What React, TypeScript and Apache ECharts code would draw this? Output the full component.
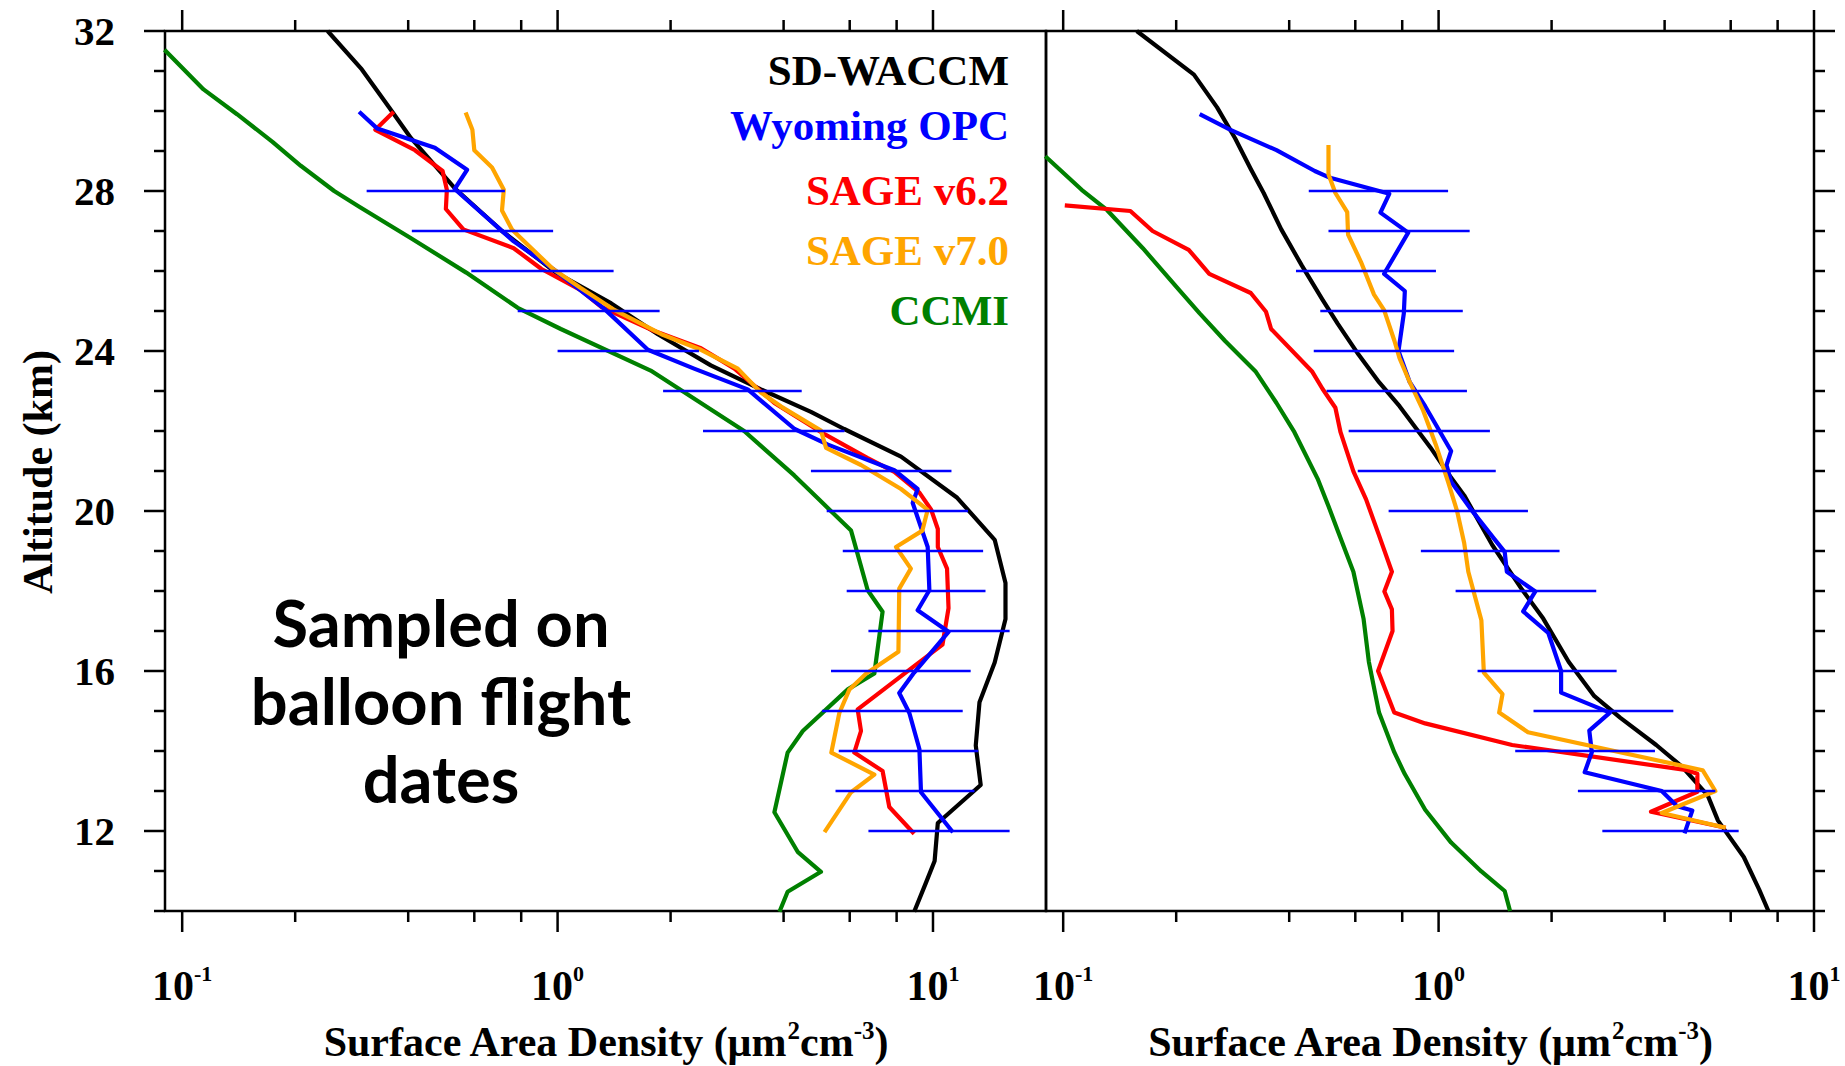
import React, { useEffect, useRef } from 'react';
import * as echarts from 'echarts';

const SERIF = '"Liberation Serif", "Times New Roman", Times, serif';

// ---- axes ----
const leftXRange = [0.09, 20];
const rightXRange = [0.09, 10];
const altRange = [10, 32];
const xMajorTicks = [0.1, 1, 10];
const xMinorTicks = [0.2, 0.4, 0.6, 0.8, 2, 4, 6, 8];
const yMajorTicks = [12, 16, 20, 24, 28, 32];
const yMinorTicks = [10, 11, 13, 14, 15, 17, 18, 19, 21, 22, 23, 25, 26, 27, 29, 30, 31];

// ---- legend / text ----
const legendLabels = ['SD-WACCM', 'Wyoming OPC', 'SAGE v6.2', 'SAGE v7.0', 'CCMI'];
const legendColors = ['#000000', '#0000ff', '#ff0000', '#ffa500', '#008000'];
const xTitle = 'Surface Area Density (\u03bcm{s|2}cm{s|-3})';
const yTitle = 'Altitude (km)';
const note = 'Sampled on\nballoon flight\ndates';

// ---- left panel: [surface area density, altitude km] ----
const waccmLeft = [[0.244,32.0],[0.301,31.04],[0.356,30.09],[0.407,29.32],[0.532,28.07],[0.711,27.0],[0.99,25.96],[1.39,25.19],[1.85,24.42],[2.56,23.64],[3.48,23.04],[4.73,22.48],[5.80,22.05],[8.22,21.36],[11.6,20.33],[14.6,19.28],[15.6,18.2],[15.6,17.3],[14.6,16.21],[13.3,15.22],[13.0,14.14],[13.4,13.15],[10.3,12.2],[10.1,11.25],[9.58,10.71],[8.91,9.98]];
const ccmiLeft = [[0.0897,31.53],[0.114,30.54],[0.140,29.92],[0.174,29.23],[0.207,28.63],[0.254,28.0],[0.297,27.6],[0.407,26.82],[0.571,25.96],[0.783,25.08],[1.02,24.55],[1.77,23.51],[3.14,22.0],[4.27,20.89],[4.98,20.28],[6.05,19.51],[6.70,18.02],[7.34,17.48],[6.98,15.94],[5.93,15.54],[4.50,14.5],[4.10,13.96],[3.78,12.47],[4.36,11.48],[5.03,10.98],[4.10,10.48],[3.90,9.98]];
const opcLeft = [[0.296,29.98],[0.331,29.56],[0.471,29.08],[0.574,28.53],[0.532,28.05],[0.764,26.74],[0.973,26.05],[1.33,25.06],[1.74,24.03],[2.31,23.56],[3.21,23.04],[4.28,22.05],[5.25,21.66],[7.89,21.02],[9.10,20.55],[8.83,20.2],[9.68,19.1],[9.78,18.02],[9.10,17.52],[11.0,16.98],[8.91,15.96],[8.13,15.45],[8.65,14.95],[9.20,14.05],[9.29,12.97],[11.3,11.97]];
const sage62Left = [[0.366,29.98],[0.327,29.53],[0.417,29.02],[0.494,28.5],[0.507,28.03],[0.504,27.55],[0.561,27.04],[0.764,26.57],[0.906,26.05],[1.15,25.53],[1.31,25.1],[1.81,24.5],[2.41,24.07],[2.96,23.56],[3.78,22.7],[5.14,21.92],[6.70,21.32],[7.89,20.98],[9.20,20.46],[9.89,20.03],[10.3,19.55],[10.3,19.1],[10.9,18.56],[11.0,17.57],[10.6,16.66],[8.91,16.12],[6.30,15.04],[6.43,14.5],[6.17,13.96],[7.34,13.5],[7.65,12.6],[8.91,11.93]];
const sage70Left = [[0.569,29.96],[0.593,29.53],[0.600,29.02],[0.669,28.59],[0.719,28.03],[0.711,27.51],[0.756,27.04],[0.842,26.61],[0.973,26.05],[1.15,25.58],[1.42,25.02],[1.89,24.42],[2.41,24.03],[3.02,23.56],[3.48,22.96],[3.94,22.61],[5.03,22.01],[5.19,21.58],[6.43,21.15],[8.22,20.55],[9.68,20.03],[9.37,19.51],[7.97,19.1],[8.73,18.56],[8.13,18.06],[8.09,16.48],[6.64,15.94],[5.99,15.54],[5.63,14.95],[5.36,13.96],[6.98,13.41],[6.05,12.97],[5.14,11.97]];
// [low, high, altitude]
const opcErrLeft = [[0.310,0.724,28],[0.409,0.973,27],[0.589,1.41,26],[0.783,1.87,25],[1.00,2.38,24],[1.91,4.47,23],[2.44,5.81,22],[4.73,11.2,21],[5.21,12.4,20],[5.75,13.6,19],[5.89,13.8,18],[6.73,16.0,17],[5.35,12.6,16],[5.06,12.0,15],[5.61,13.2,14],[5.50,12.9,13],[6.73,16.0,12]];

// ---- right panel ----
const waccmRight = [[0.157,32.0],[0.223,30.91],[0.257,30.09],[0.287,29.32],[0.316,28.55],[0.342,27.95],[0.381,27.04],[0.432,26.14],[0.491,25.28],[0.539,24.68],[0.612,23.91],[0.694,23.22],[0.787,22.62],[0.951,21.59],[1.06,20.94],[1.17,20.39],[1.39,19.15],[1.67,18.03],[1.90,17.31],[2.22,16.23],[2.60,15.37],[3.05,14.83],[3.80,14.15],[4.45,13.61],[5.21,12.89],[5.55,12.26],[6.50,11.35],[7.14,10.54],[7.56,10.0]];
const ccmiRight = [[0.0896,28.87],[0.112,28.03],[0.131,27.52],[0.163,26.57],[0.203,25.54],[0.231,24.94],[0.270,24.25],[0.326,23.48],[0.370,22.70],[0.413,21.97],[0.476,20.81],[0.51,20.1],[0.540,19.48],[0.593,18.48],[0.631,17.31],[0.652,16.23],[0.694,14.96],[0.762,13.97],[0.812,13.43],[0.921,12.53],[1.08,11.71],[1.30,10.99],[1.50,10.5],[1.55,10.0]];
const sage62Right = [[0.101,27.64],[0.151,27.5],[0.173,27.0],[0.216,26.53],[0.245,25.93],[0.316,25.45],[0.347,24.98],[0.358,24.55],[0.461,23.48],[0.491,23.05],[0.531,22.58],[0.548,21.97],[0.593,20.99],[0.641,20.29],[0.694,19.39],[0.751,18.48],[0.717,17.99],[0.751,17.54],[0.754,17.0],[0.690,16.0],[0.762,14.96],[0.921,14.69],[1.57,14.15],[4.59,13.52],[4.89,13.43],[4.89,12.98],[3.68,12.48],[5.82,12.08]];
const sage70Right = [[0.509,29.15],[0.509,28.42],[0.531,27.95],[0.571,27.47],[0.574,26.91],[0.621,26.23],[0.673,25.41],[0.716,25.02],[0.763,24.25],[0.787,23.82],[0.838,23.22],[0.908,22.53],[0.982,21.67],[1.06,20.73],[1.12,20.0],[1.17,19.2],[1.20,18.48],[1.30,17.27],[1.32,15.96],[1.48,15.42],[1.45,14.96],[1.73,14.47],[5.05,13.52],[5.46,13.0],[3.93,12.45],[5.82,12.08]];
const opcRight = [[0.231,29.92],[0.279,29.53],[0.370,29.02],[0.468,28.5],[0.514,28.33],[0.739,27.93],[0.700,27.46],[0.830,26.96],[0.716,25.93],[0.813,25.5],[0.808,24.94],[0.782,24.0],[0.838,23.22],[0.921,22.62],[1.08,21.5],[1.05,21.15],[1.08,20.73],[1.22,20.04],[1.41,19.29],[1.50,18.98],[1.52,18.48],[1.81,17.99],[1.68,17.49],[1.96,16.95],[2.12,16.0],[2.12,15.46],[2.86,14.96],[2.52,14.51],[2.56,13.97],[2.45,13.47],[3.93,13.0],[4.32,12.62],[4.74,12.51],[4.52,11.94]];
const opcErrRight = [[0.451,1.06,28],[0.509,1.21,27],[0.417,0.984,26],[0.484,1.16,25],[0.465,1.10,24],[0.503,1.19,23],[0.576,1.37,22],[0.609,1.42,21],[0.736,1.73,20],[0.897,2.10,19],[1.11,2.63,18],[1.27,2.98,16],[1.79,4.22,15],[1.60,3.77,14],[2.35,5.46,13],[2.73,6.30,12]];

const LINE_W = 4.2;
const FRAME_W = 2.5;

function lineSeries(data: number[][], color: string, g: number) {
  return {
    type: 'line', data, xAxisIndex: g, yAxisIndex: g,
    symbol: 'none', showSymbol: false, silent: true, clip: true,
    lineStyle: { color, width: LINE_W, join: 'round' }, itemStyle: { color },
  };
}

function errSeries(data: number[][], g: number) {
  return {
    type: 'custom', xAxisIndex: g, yAxisIndex: g, silent: true, clip: false, z: 5,
    data, encode: { x: [0, 1], y: 2 },
    renderItem: (params: any, api: any) => {
      const a = api.coord([api.value(0), api.value(2)]);
      const b = api.coord([api.value(1), api.value(2)]);
      return { type: 'line', shape: { x1: a[0], y1: a[1], x2: b[0], y2: b[1] }, style: { stroke: '#0000ff', lineWidth: 2.5 } };
    },
  };
}

function xTickSeries(g: number) {
  const data = [...xMajorTicks.map((v) => [v, 20, 1]), ...xMinorTicks.map((v) => [v, 20, 0])];
  return {
    type: 'custom', xAxisIndex: g, yAxisIndex: g, silent: true, clip: false, z: 6,
    data, encode: { x: 0, y: 1 },
    renderItem: (params: any, api: any) => {
      const cs = params.coordSys;
      const px = api.coord([api.value(0), api.value(1)])[0];
      const len = api.value(2) ? 21 : 11;
      const bottom = cs.y + cs.height;
      const st = { stroke: '#000', lineWidth: FRAME_W };
      return {
        type: 'group',
        children: [
          { type: 'line', shape: { x1: px, y1: bottom, x2: px, y2: bottom + len }, style: st },
          { type: 'line', shape: { x1: px, y1: cs.y, x2: px, y2: cs.y - len }, style: st },
        ],
      };
    },
  };
}

function yTickSeries(g: number, side: 'left' | 'right') {
  const data = [...yMajorTicks.map((v) => [1, v, 1]), ...yMinorTicks.map((v) => [1, v, 0])];
  return {
    type: 'custom', xAxisIndex: g, yAxisIndex: g, silent: true, clip: false, z: 6,
    data, encode: { x: 0, y: 1 },
    renderItem: (params: any, api: any) => {
      const cs = params.coordSys;
      const py = api.coord([api.value(0), api.value(1)])[1];
      const len = api.value(2) ? 21 : 11;
      const x0 = side === 'left' ? cs.x : cs.x + cs.width;
      const x1 = side === 'left' ? x0 - len : x0 + len;
      return { type: 'line', shape: { x1: x0, y1: py, x2: x1, y2: py }, style: { stroke: '#000', lineWidth: FRAME_W } };
    },
  };
}

function xAxisDef(g: number, range: number[]) {
  return {
    type: 'log', logBase: 10, gridIndex: g, min: range[0], max: range[1], position: 'bottom',
    axisLine: { show: false }, axisTick: { show: false }, splitLine: { show: false }, minorTick: { show: false },
    axisLabel: {
      show: true, margin: 51, showMinLabel: true, showMaxLabel: true,
      formatter: (v: number) => {
        const l = Math.log10(v);
        const e = Math.round(l);
        if (Math.abs(l - e) > 1e-6) return '';
        return '{b|10}{s|' + e + '}';
      },
      rich: {
        b: { fontSize: 42, fontWeight: 'bold', fontFamily: SERIF, color: '#000', lineHeight: 48 },
        s: { fontSize: 22, fontWeight: 'bold', fontFamily: SERIF, color: '#000', verticalAlign: 'top' },
      },
    },
  };
}

function yAxisDef(g: number, labels: boolean) {
  return {
    type: 'value', gridIndex: g, min: altRange[0], max: altRange[1], interval: 1,
    axisLine: { show: false }, axisTick: { show: false }, splitLine: { show: false },
    axisLabel: {
      show: labels, margin: 50, fontSize: 41, fontWeight: 'bold', fontFamily: SERIF, color: '#000',
      formatter: (v: number) => (yMajorTicks.indexOf(v) >= 0 ? String(v) : ''),
    },
  };
}

export default function App() {
  const ref = useRef<HTMLDivElement>(null);
  useEffect(() => {
    if (!ref.current) return;
    const chart = echarts.init(ref.current, null, { renderer: 'svg' });
    const supRich = { s: { fontSize: 25, fontWeight: 'bold', fontFamily: SERIF, fill: '#000', verticalAlign: 'top' } };
    const option: any = {
      animation: false,
      backgroundColor: '#ffffff',
      grid: [
        { left: 165, top: 31, width: 881, height: 880, show: true, borderColor: '#000', borderWidth: FRAME_W, outerBoundsMode: 'none', containLabel: false },
        { left: 1046, top: 31, width: 768, height: 880, show: true, borderColor: '#000', borderWidth: FRAME_W, outerBoundsMode: 'none', containLabel: false },
      ],
      xAxis: [xAxisDef(0, leftXRange), xAxisDef(1, rightXRange)],
      yAxis: [yAxisDef(0, true), yAxisDef(1, false)],
      series: [
        lineSeries(waccmLeft, legendColors[0], 0),
        lineSeries(ccmiLeft, legendColors[4], 0),
        lineSeries(sage62Left, legendColors[2], 0),
        lineSeries(opcLeft, legendColors[1], 0),
        lineSeries(sage70Left, legendColors[3], 0),
        errSeries(opcErrLeft, 0),
        lineSeries(waccmRight, legendColors[0], 1),
        lineSeries(ccmiRight, legendColors[4], 1),
        lineSeries(sage62Right, legendColors[2], 1),
        lineSeries(opcRight, legendColors[1], 1),
        lineSeries(sage70Right, legendColors[3], 1),
        errSeries(opcErrRight, 1),
        xTickSeries(0), xTickSeries(1),
        yTickSeries(0, 'left'), yTickSeries(1, 'right'),
      ],
      graphic: [
        ...legendLabels.map((t, i) => ({
          type: 'text', x: 1009, y: [70, 125, 190, 250, 310][i], silent: true,
          style: { text: t, fill: legendColors[i], fontSize: 43, fontWeight: 'bold', fontFamily: SERIF, align: 'right', verticalAlign: 'middle' },
        })),
        {
          type: 'text', x: 441, y: 700, silent: true,
          style: { text: note, fill: '#000', fontSize: 65, fontWeight: 'bold', fontFamily: 'Lato, "Noto Sans", sans-serif', lineHeight: 78, align: 'center', verticalAlign: 'middle' },
        },
        {
          type: 'text', x: 605.5, y: 1042, silent: true,
          style: { text: xTitle, fill: '#000', fontSize: 42, fontWeight: 'bold', fontFamily: SERIF, lineHeight: 48, align: 'center', verticalAlign: 'middle', rich: supRich },
        },
        {
          type: 'text', x: 1430, y: 1042, silent: true,
          style: { text: xTitle, fill: '#000', fontSize: 42, fontWeight: 'bold', fontFamily: SERIF, lineHeight: 48, align: 'center', verticalAlign: 'middle', rich: supRich },
        },
        {
          type: 'text', x: 38, y: 472, rotation: Math.PI / 2, silent: true,
          style: { text: yTitle, fill: '#000', fontSize: 42, fontWeight: 'bold', fontFamily: SERIF, align: 'center', verticalAlign: 'middle' },
        },
      ],
    };
    chart.setOption(option);
    return () => chart.dispose();
  }, []);
  return <div ref={ref} style={{ position: 'absolute', left: 0, top: 0, width: 1845, height: 1066 }} />;
}
